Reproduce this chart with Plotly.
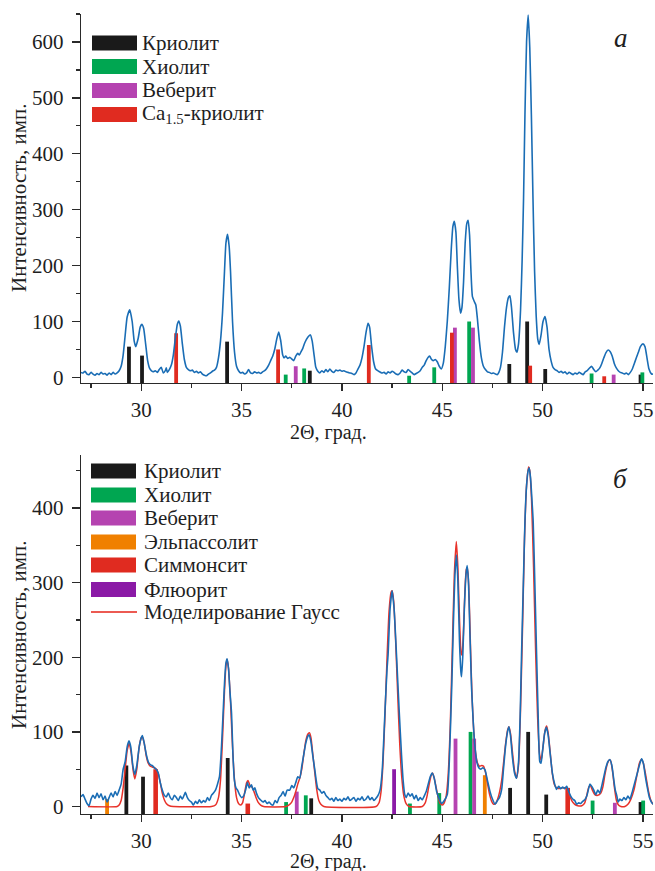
import plotly.graph_objects as go

# ---------------- DATA ----------------
# Panel a: observed XRD pattern (2theta, intensity)
pattern_a = [
    (27.0, 9), (27.1, 8), (27.2, 11), (27.3, 6), (27.4, 5), (27.5, 9), (27.6, 6), (27.7, 4), (27.8, 7),
    (27.9, 5), (28.0, 9), (28.1, 6), (28.2, 7), (28.3, 4), (28.4, 8), (28.5, 5), (28.6, 9), (28.7, 6),
    (28.8, 8), (28.9, 12), (29.0, 20), (29.1, 40), (29.2, 75), (29.3, 108), (29.43, 121), (29.55, 100),
    (29.65, 65), (29.73, 55), (29.85, 70), (29.95, 90), (30.03, 95), (30.12, 88), (30.22, 60), (30.32, 30),
    (30.42, 16), (30.5, 12), (30.6, 10), (30.7, 12), (30.8, 9), (30.9, 14), (31.0, 18), (31.1, 8),
    (31.2, 12), (31.25, 17), (31.3, 9), (31.4, 14), (31.5, 22), (31.6, 40), (31.7, 70), (31.8, 95),
    (31.87, 101), (31.95, 92), (32.05, 60), (32.15, 32), (32.25, 18), (32.35, 14), (32.45, 12), (32.55, 13),
    (32.65, 9), (32.75, 11), (32.85, 8), (32.95, 10), (33.05, 6), (33.15, 4), (33.25, 3), (33.35, 6),
    (33.45, 8), (33.55, 11), (33.65, 13), (33.75, 18), (33.85, 35), (33.95, 65), (34.05, 115), (34.15, 190),
    (34.22, 240), (34.3, 256), (34.38, 235), (34.45, 190), (34.55, 100), (34.65, 45), (34.75, 20), (34.85, 12),
    (34.95, 8), (35.05, 9), (35.15, 6), (35.25, 8), (35.35, 14), (35.45, 8), (35.55, 7), (35.65, 10),
    (35.75, 8), (35.85, 9), (35.95, 7), (36.05, 10), (36.15, 12), (36.25, 16), (36.35, 22), (36.45, 30),
    (36.55, 38), (36.65, 50), (36.75, 68), (36.85, 81), (36.95, 66), (37.05, 40), (37.12, 35), (37.2, 38),
    (37.3, 34), (37.4, 36), (37.5, 33), (37.6, 30), (37.7, 38), (37.8, 43), (37.88, 40), (37.95, 45),
    (38.05, 52), (38.15, 62), (38.3, 72), (38.43, 76), (38.52, 65), (38.62, 38), (38.7, 18), (38.8, 11),
    (38.9, 8), (39.0, 12), (39.1, 9), (39.2, 14), (39.3, 10), (39.4, 15), (39.5, 11), (39.6, 9),
    (39.7, 13), (39.8, 12), (39.9, 13), (40.0, 11), (40.1, 12), (40.2, 10), (40.3, 9), (40.4, 8),
    (40.5, 7), (40.6, 5), (40.7, 8), (40.8, 15), (40.9, 22), (41.0, 35), (41.1, 55), (41.2, 80),
    (41.3, 97), (41.38, 90), (41.48, 55), (41.58, 28), (41.68, 15), (41.78, 12), (41.88, 10), (41.98, 8),
    (42.1, 9), (42.2, 6), (42.3, 10), (42.4, 8), (42.5, 11), (42.6, 9), (42.7, 6), (42.8, 5),
    (42.9, 8), (43.0, 13), (43.1, 10), (43.2, 9), (43.3, 14), (43.4, 11), (43.5, 8), (43.6, 5),
    (43.7, 7), (43.8, 9), (43.9, 12), (44.0, 18), (44.1, 22), (44.2, 30), (44.3, 36), (44.38, 38),
    (44.45, 33), (44.55, 30), (44.65, 32), (44.75, 28), (44.85, 20), (44.95, 15), (45.05, 25), (45.15, 55),
    (45.25, 100), (45.35, 160), (45.45, 230), (45.53, 270), (45.6, 279), (45.68, 260), (45.75, 200),
    (45.83, 140), (45.91, 115), (45.98, 125), (46.06, 170), (46.14, 240), (46.22, 275), (46.29, 281),
    (46.36, 255), (46.43, 190), (46.5, 145), (46.58, 137), (46.67, 130), (46.75, 105), (46.85, 65),
    (46.95, 35), (47.05, 20), (47.15, 14), (47.25, 10), (47.35, 9), (47.45, 7), (47.55, 8), (47.65, 6),
    (47.75, 5), (47.82, 9), (47.9, 18), (48.0, 45), (48.1, 90), (48.2, 125), (48.3, 143), (48.37, 146),
    (48.45, 125), (48.55, 80), (48.65, 50), (48.72, 45), (48.8, 60), (48.9, 120), (48.98, 210), (49.05, 320),
    (49.12, 470), (49.2, 600), (49.28, 648), (49.36, 590), (49.44, 470), (49.52, 320), (49.6, 190),
    (49.68, 110), (49.76, 68), (49.83, 59), (49.92, 75), (50.02, 100), (50.12, 109), (50.22, 90), (50.32, 50),
    (50.42, 30), (50.52, 18), (50.62, 14), (50.72, 12), (50.82, 9), (50.92, 11), (51.02, 8), (51.12, 10),
    (51.22, 6), (51.32, 9), (51.42, 7), (51.52, 5), (51.62, 8), (51.72, 6), (51.82, 9), (51.92, 7),
    (52.02, 5), (52.12, 10), (52.22, 12), (52.32, 16), (52.44, 20), (52.55, 14), (52.65, 10), (52.75, 13),
    (52.85, 17), (52.95, 25), (53.05, 35), (53.15, 44), (53.27, 49), (53.37, 46), (53.47, 38), (53.57, 25),
    (53.67, 17), (53.77, 12), (53.87, 9), (53.97, 8), (54.07, 6), (54.17, 8), (54.27, 5), (54.37, 9),
    (54.47, 15), (54.57, 25), (54.67, 35), (54.77, 45), (54.87, 55), (55.0, 60), (55.1, 55), (55.2, 35),
    (55.3, 15), (55.43, 6), (55.5, 6),
]

# Panel б: observed XRD pattern
pattern_b = [
    (27.0, 13), (27.1, 16), (27.2, 10), (27.3, 4), (27.4, 1), (27.5, 10), (27.6, 15), (27.7, 11),
    (27.8, 18), (27.9, 12), (28.0, 17), (28.1, 9), (28.2, 14), (28.3, 6), (28.4, 12), (28.5, 18),
    (28.6, 13), (28.7, 20), (28.8, 15), (28.9, 22), (29.0, 30), (29.1, 50), (29.2, 60), (29.3, 80),
    (29.39, 88), (29.48, 80), (29.58, 55), (29.68, 43), (29.78, 55), (29.9, 80), (30.0, 92), (30.06, 95),
    (30.15, 85), (30.25, 70), (30.35, 60), (30.45, 56), (30.55, 55), (30.65, 52), (30.75, 50), (30.85, 45),
    (30.95, 32), (31.05, 22), (31.15, 15), (31.25, 13), (31.35, 18), (31.45, 12), (31.55, 9), (31.65, 15),
    (31.75, 12), (31.85, 8), (31.95, 14), (32.05, 10), (32.15, 16), (32.2, 19), (32.3, 12), (32.4, 8),
    (32.5, 6), (32.6, 2), (32.7, 7), (32.8, 4), (32.9, 9), (33.0, 5), (33.1, 8), (33.2, 6),
    (33.3, 12), (33.4, 8), (33.5, 15), (33.6, 18), (33.7, 22), (33.8, 30), (33.9, 40), (34.0, 80),
    (34.08, 125), (34.16, 170), (34.22, 192), (34.28, 198), (34.35, 185), (34.42, 155), (34.5, 125),
    (34.57, 70), (34.64, 36), (34.72, 25), (34.8, 22), (34.9, 16), (35.0, 12), (35.1, 14), (35.2, 22),
    (35.29, 32), (35.38, 25), (35.49, 29), (35.58, 22), (35.66, 25), (35.74, 18), (35.84, 12), (35.94, 9),
    (36.07, 6), (36.17, 8), (36.27, 4), (36.37, 6), (36.47, 3), (36.57, 2), (36.67, 8), (36.77, 5),
    (36.87, 12), (36.97, 15), (37.07, 20), (37.17, 14), (37.27, 22), (37.4, 22), (37.5, 28), (37.6, 25),
    (37.7, 32), (37.8, 40), (37.9, 38), (38.0, 54), (38.1, 70), (38.2, 85), (38.3, 94), (38.36, 96),
    (38.45, 88), (38.55, 68), (38.65, 49), (38.72, 35), (38.8, 24), (38.9, 22), (39.0, 18), (39.1, 20),
    (39.2, 15), (39.3, 12), (39.4, 9), (39.5, 11), (39.6, 7), (39.7, 12), (39.8, 8), (39.9, 10),
    (40.0, 7), (40.1, 11), (40.2, 9), (40.3, 13), (40.4, 8), (40.5, 10), (40.6, 12), (40.7, 7),
    (40.8, 11), (40.9, 9), (41.0, 13), (41.1, 8), (41.2, 10), (41.3, 14), (41.4, 9), (41.5, 12),
    (41.6, 8), (41.7, 11), (41.8, 15), (41.9, 22), (42.0, 45), (42.05, 69), (42.15, 130), (42.25, 185),
    (42.3, 203), (42.4, 265), (42.5, 289), (42.6, 265), (42.72, 203), (42.85, 130), (42.97, 69), (43.05, 35),
    (43.13, 16), (43.2, 12), (43.3, 18), (43.4, 14), (43.5, 17), (43.6, 10), (43.7, 15), (43.8, 8),
    (43.9, 12), (44.0, 9), (44.1, 14), (44.2, 20), (44.3, 30), (44.4, 40), (44.5, 45), (44.6, 38),
    (44.72, 20), (44.85, 10), (44.97, 4), (45.1, 8), (45.25, 16), (45.35, 60), (45.47, 159), (45.55, 240),
    (45.63, 310), (45.71, 337), (45.78, 300), (45.86, 220), (45.93, 180), (45.96, 174), (46.02, 200),
    (46.1, 265), (46.18, 310), (46.24, 323), (46.3, 305), (46.38, 230), (46.46, 159), (46.55, 110),
    (46.63, 80), (46.72, 60), (46.82, 52), (46.92, 50), (47.02, 52), (47.13, 49), (47.25, 35), (47.38, 20),
    (47.5, 10), (47.63, 3), (47.75, 8), (47.85, 12), (47.96, 23), (48.05, 50), (48.15, 80), (48.25, 100),
    (48.32, 107), (48.4, 95), (48.5, 65), (48.6, 45), (48.7, 38), (48.8, 60), (48.88, 120), (48.95, 203),
    (49.05, 310), (49.12, 382), (49.2, 430), (49.28, 450), (49.33, 454), (49.4, 440), (49.47, 410),
    (49.53, 382), (49.62, 290), (49.7, 203), (49.78, 120), (49.86, 60), (49.92, 58), (50.0, 75), (50.1, 98),
    (50.19, 106), (50.28, 95), (50.38, 70), (50.49, 44), (50.6, 30), (50.69, 23), (50.8, 27), (50.9, 24),
    (51.0, 26), (51.1, 24), (51.2, 27), (51.3, 20), (51.4, 14), (51.5, 10), (51.6, 8), (51.7, 3),
    (51.8, 5), (51.9, 4), (52.0, 7), (52.1, 9), (52.2, 14), (52.3, 25), (52.36, 30), (52.45, 27),
    (52.55, 22), (52.65, 16), (52.75, 22), (52.85, 18), (52.95, 28), (53.05, 40), (53.15, 52), (53.25, 60),
    (53.35, 63), (53.45, 55), (53.55, 35), (53.62, 22), (53.7, 14), (53.77, 6), (53.85, 10), (53.95, 8),
    (54.05, 12), (54.15, 9), (54.25, 14), (54.35, 10), (54.45, 18), (54.55, 28), (54.65, 38), (54.75, 48),
    (54.85, 58), (54.93, 64), (55.02, 58), (55.12, 40), (55.22, 25), (55.32, 12), (55.42, 6), (55.5, 3),
]

# Panel б: Gaussian model
gauss_b = [
    (27.35, 0), (28.8, 0), (28.9, 2), (29.0, 8), (29.1, 25), (29.2, 50), (29.3, 75), (29.4, 85), (29.5, 72),
    (29.6, 48), (29.68, 37), (29.78, 50), (29.9, 80), (30.0, 92), (30.05, 94), (30.15, 85), (30.25, 68),
    (30.35, 58), (30.45, 54), (30.55, 53), (30.65, 52), (30.75, 50), (30.85, 44), (30.95, 32), (31.05, 18),
    (31.15, 9), (31.25, 4), (31.4, 1), (31.6, 0), (33.5, 0), (33.7, 2), (33.85, 12), (33.95, 35),
    (34.05, 90), (34.15, 155), (34.22, 188), (34.28, 197), (34.35, 185), (34.45, 140), (34.55, 80),
    (34.65, 35), (34.75, 12), (34.85, 4), (34.95, 2), (35.05, 5), (35.15, 18), (35.25, 32), (35.32, 35),
    (35.42, 28), (35.52, 26), (35.62, 20), (35.72, 12), (35.82, 6), (35.95, 2), (36.1, 0), (37.2, 0),
    (37.35, 2), (37.5, 6), (37.6, 12), (37.7, 20), (37.8, 30), (37.9, 38), (38.0, 50), (38.1, 70),
    (38.2, 88), (38.3, 97), (38.38, 99), (38.46, 92), (38.55, 70), (38.65, 45), (38.75, 22), (38.85, 8),
    (38.95, 3), (39.1, 0), (41.7, 0), (41.85, 5), (41.95, 20), (42.05, 60), (42.15, 125), (42.25, 200),
    (42.35, 262), (42.45, 287), (42.5, 289), (42.58, 275), (42.68, 220), (42.78, 150), (42.88, 85),
    (42.98, 40), (43.08, 15), (43.2, 4), (43.35, 0), (44.0, 0), (44.15, 5), (44.25, 15), (44.35, 30),
    (44.45, 42), (44.52, 45), (44.6, 38), (44.7, 25), (44.8, 12), (44.9, 4), (45.0, 2), (45.1, 5),
    (45.2, 15), (45.3, 45), (45.4, 110), (45.5, 210), (45.6, 310), (45.7, 355), (45.78, 320), (45.86, 250),
    (45.94, 205), (45.98, 203), (46.05, 230), (46.13, 290), (46.2, 318), (46.25, 320), (46.32, 295),
    (46.4, 220), (46.48, 150), (46.57, 100), (46.66, 72), (46.76, 58), (46.86, 54), (46.96, 55), (47.06, 54),
    (47.16, 45), (47.26, 30), (47.36, 16), (47.46, 7), (47.56, 3), (47.66, 4), (47.76, 10), (47.86, 20),
    (47.96, 35), (48.06, 60), (48.16, 85), (48.26, 103), (48.32, 107), (48.4, 98), (48.5, 72), (48.6, 48),
    (48.7, 38), (48.8, 55), (48.9, 130), (49.0, 240), (49.1, 360), (49.2, 430), (49.3, 455), (49.36, 450),
    (49.45, 410), (49.55, 320), (49.65, 210), (49.75, 120), (49.85, 70), (49.93, 62), (50.02, 80),
    (50.12, 102), (50.2, 108), (50.28, 98), (50.38, 72), (50.48, 45), (50.58, 30), (50.7, 25), (50.85, 24),
    (51.0, 25), (51.15, 25), (51.3, 18), (51.45, 8), (51.6, 3), (51.75, 1), (51.95, 1), (52.1, 5),
    (52.2, 15), (52.3, 26), (52.38, 28), (52.48, 22), (52.6, 16), (52.75, 15), (52.9, 18), (53.0, 26),
    (53.1, 42), (53.2, 55), (53.3, 62), (53.38, 62), (53.48, 48), (53.58, 25), (53.68, 8), (53.78, 2),
    (53.9, 0), (54.1, 0), (54.25, 3), (54.4, 10), (54.55, 22), (54.7, 42), (54.82, 58), (54.93, 63),
    (55.03, 57), (55.15, 40), (55.28, 20), (55.4, 8), (55.5, 3),
]

# Reference (stick) patterns, panel a
a_cryolite_x = [29.39, 30.04, 34.28, 38.40, 48.34, 49.23, 50.13, 54.88]
a_cryolite_y = [55, 39, 64, 12, 24, 100, 15, 5]
a_chiolite_x = [37.20, 38.12, 43.35, 44.60, 46.34, 52.44, 54.97]
a_chiolite_y = [5, 16, 3, 18, 100, 7, 9]
a_weberite_x = [37.70, 45.63, 46.53, 53.54]
a_weberite_y = [20, 89, 89, 5]
a_ca_cryolite_x = [31.74, 36.82, 41.34, 45.48, 49.38, 53.07]
a_ca_cryolite_y = [79, 50, 58, 80, 21, 2]

# Reference (stick) patterns, panel б
b_cryolite_x = [29.26, 30.09, 34.31, 38.47, 48.38, 49.28, 50.18, 54.88]
b_cryolite_y = [55, 40, 65, 11, 25, 100, 16, 6]
b_chiolite_x = [37.22, 38.20, 43.39, 44.85, 46.41, 52.49, 55.01]
b_chiolite_y = [6, 15, 4, 18, 100, 8, 8]
b_weberite_x = [37.75, 45.66, 46.59, 53.60]
b_weberite_y = [20, 91, 91, 5]
b_elpasolite_x = [28.30, 47.12]
b_elpasolite_y = [10, 42]
b_simmonsite_x = [30.72, 35.31, 51.25]
b_simmonsite_y = [50, 4, 25]
b_fluorite_x = [42.60]
b_fluorite_y = [50]

names_a = ["Криолит", "Хиолит", "Веберит", "Ca<sub>1.5</sub>-криолит"]
names_b = ["Криолит", "Хиолит", "Веберит", "Эльпассолит", "Симмонсит", "Флюорит"]
gauss_name = "Моделирование Гаусс"
x_title = "2Θ, град."
y_title = "Интенсивность, имп."

# ---------------- STYLE ----------------
C_BLACK = "#1a1a1a"
C_GREEN = "#00a651"
C_MAGENTA = "#b543b0"
C_RED = "#e02b20"
C_ORANGE = "#f08000"
C_PURPLE = "#8b1aa6"
C_BLUE = "#1a6db5"
C_GAUSS = "#e8322a"
FONT = "'Liberation Serif', 'Times New Roman', Times, serif"
TXT = "#1e1e1e"
FS = 21

W, H = 655, 871
ML, MR, MT, MB = 81, 2, 14, 57
PW, PH = W - ML - MR, H - MT - MB


def pxx(x):
    return (x - ML) / PW


def pxy(y):
    return (H - MB - y) / PH


YMIN = -10
fig = go.Figure()


def add_sticks(xs, ys, color, xa, ya, width=0.19):
    fig.add_trace(go.Bar(
        x=xs, y=[v - YMIN for v in ys], base=YMIN, width=width,
        marker=dict(color=color, line=dict(width=0)),
        xaxis=xa, yaxis=ya, showlegend=False, hoverinfo="skip"))


# Panel a
fig.add_trace(go.Scatter(
    x=[p[0] for p in pattern_a], y=[p[1] for p in pattern_a], mode="lines",
    line=dict(color=C_BLUE, width=1.6, shape="spline", smoothing=0.5),
    xaxis="x", yaxis="y", showlegend=False, hoverinfo="skip"))
add_sticks(a_cryolite_x, a_cryolite_y, C_BLACK, "x", "y")
add_sticks(a_chiolite_x, a_chiolite_y, C_GREEN, "x", "y")
add_sticks(a_weberite_x, a_weberite_y, C_MAGENTA, "x", "y")
add_sticks(a_ca_cryolite_x, a_ca_cryolite_y, C_RED, "x", "y")

# Panel б
fig.add_trace(go.Scatter(
    x=[p[0] for p in gauss_b], y=[p[1] for p in gauss_b], mode="lines",
    line=dict(color=C_GAUSS, width=1.5, shape="spline", smoothing=0.5),
    xaxis="x2", yaxis="y2", showlegend=False, hoverinfo="skip"))
fig.add_trace(go.Scatter(
    x=[p[0] for p in pattern_b], y=[p[1] for p in pattern_b], mode="lines",
    line=dict(color=C_BLUE, width=1.6, shape="spline", smoothing=0.5),
    xaxis="x2", yaxis="y2", showlegend=False, hoverinfo="skip"))
add_sticks(b_cryolite_x, b_cryolite_y, C_BLACK, "x2", "y2")
add_sticks(b_chiolite_x, b_chiolite_y, C_GREEN, "x2", "y2")
add_sticks(b_weberite_x, b_weberite_y, C_MAGENTA, "x2", "y2")
add_sticks(b_elpasolite_x, b_elpasolite_y, C_ORANGE, "x2", "y2")
add_sticks(b_simmonsite_x, b_simmonsite_y, C_RED, "x2", "y2", width=0.23)
add_sticks(b_fluorite_x, b_fluorite_y, C_PURPLE, "x2", "y2")

minor_x = dict(dtick=2.5, ticks="outside", ticklen=4, tickwidth=1.2, tickcolor="#2a2a2a")
minor_y = dict(dtick=50, ticks="outside", ticklen=4, tickwidth=1.2, tickcolor="#2a2a2a")
axis_common = dict(
    showline=True, linecolor="#2a2a2a", linewidth=1.3, mirror=False,
    ticks="outside", ticklen=8, tickwidth=1.3, tickcolor="#2a2a2a",
    showgrid=False, zeroline=False,
    tickfont=dict(family=FONT, size=FS, color=TXT),
)
xaxis_extra = dict(ticklen=7)

fig.update_layout(
    width=W, height=H, margin=dict(l=ML, r=MR, t=MT, b=MB, autoexpand=False),
    paper_bgcolor="white", plot_bgcolor="white", barmode="overlay", showlegend=False,
    font=dict(family=FONT, size=FS, color=TXT), hovermode=False,
    xaxis=dict(axis_common, **xaxis_extra, domain=[0, 1], anchor="y", range=[27, 55.5], dtick=5,
               minor=minor_x),
    yaxis=dict(axis_common, domain=[pxy(383), pxy(14)], anchor="x", range=[-10, 650], dtick=100,
               minor=minor_y, ticklabelstandoff=4),
    xaxis2=dict(axis_common, **xaxis_extra, domain=[0, 1], anchor="y2", range=[27, 55.5], dtick=5,
                minor=minor_x),
    yaxis2=dict(axis_common, domain=[0, pxy(455)], anchor="x2", range=[-10, 471], dtick=100,
                minor=minor_y, ticklabelstandoff=4),
)

shapes = []
annos = []

# axis titles
for yc in (198, 635):
    annos.append(dict(text=y_title, textangle=-90, x=pxx(19), y=pxy(yc), xref="paper", yref="paper",
                      xanchor="center", yanchor="middle", showarrow=False,
                      font=dict(family=FONT, size=FS, color=TXT)))
for yc in (433, 861):
    annos.append(dict(text=x_title, x=pxx(328), y=pxy(yc), xref="paper", yref="paper",
                      xanchor="center", yanchor="middle", showarrow=False,
                      font=dict(family=FONT, size=20, color=TXT)))

# panel letters
annos.append(dict(text="<i>а</i>", x=pxx(621), y=pxy(38), xref="paper", yref="paper",
                  xanchor="center", yanchor="middle", showarrow=False,
                  font=dict(family=FONT, size=27, color=TXT)))
annos.append(dict(text="<i>б</i>", x=pxx(620), y=pxy(479), xref="paper", yref="paper",
                  xanchor="center", yanchor="middle", showarrow=False,
                  font=dict(family=FONT, size=27, color=TXT)))


def legend_rows(names, colors, ycenters, x0, x1, xt):
    for nm, col, yc in zip(names, colors, ycenters):
        shapes.append(dict(type="rect", xref="paper", yref="paper",
                           x0=pxx(x0), x1=pxx(x1), y0=pxy(yc + 7.5), y1=pxy(yc - 7.5),
                           fillcolor=col, line=dict(width=0)))
        annos.append(dict(text=nm, x=pxx(xt), y=pxy(yc), xref="paper", yref="paper",
                          xanchor="left", yanchor="middle", showarrow=False,
                          font=dict(family=FONT, size=FS, color=TXT)))


legend_rows(names_a, [C_BLACK, C_GREEN, C_MAGENTA, C_RED], [43, 66.5, 90.5, 114.5], 92, 137, 140)
legend_rows(names_b, [C_BLACK, C_GREEN, C_MAGENTA, C_ORANGE, C_RED, C_PURPLE],
            [471, 495, 518, 542, 565, 589.5], 91, 136, 142)
shapes.append(dict(type="line", xref="paper", yref="paper", x0=pxx(91), x1=pxx(137),
                   y0=pxy(612), y1=pxy(612), line=dict(color="#ec5a52", width=2)))
annos.append(dict(text=gauss_name, x=pxx(142), y=pxy(612), xref="paper", yref="paper",
                  xanchor="left", yanchor="middle", showarrow=False,
                  font=dict(family=FONT, size=FS, color=TXT)))

fig.update_layout(shapes=shapes, annotations=annos)
fig.write_html("out.html", config={"displayModeBar": False, "staticPlot": True},
               post_script="document.body.style.margin='0px';")
